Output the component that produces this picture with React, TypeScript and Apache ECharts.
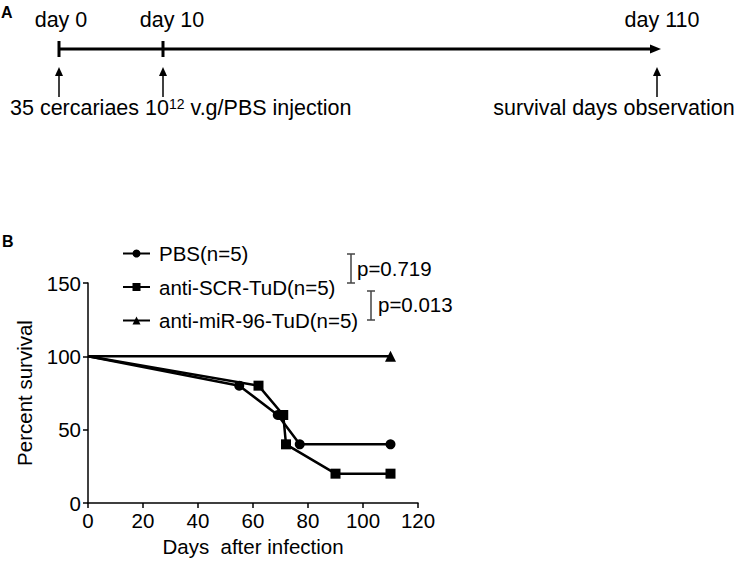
import React, { useEffect, useRef } from "react";
import * as echarts from "echarts";

const seriesNames = ["PBS(n=5)", "anti-SCR-TuD(n=5)", "anti-miR-96-TuD(n=5)"];
const pbsDays = [0, 55, 69, 77, 110];
const pbsSurvival = [100, 80, 60, 40, 40];
const scrDays = [0, 62, 71, 72, 90, 110];
const scrSurvival = [100, 80, 60, 40, 20, 20];
const mirDays = [0, 110];
const mirSurvival = [100, 100];
const symbols = ["circle", "rect", "triangle"];
const pValues = ["p=0.719", "p=0.013"];
const timelineTop = ["day 0", "day 10", "day 110"];

const FONT = "'Liberation Sans', Arial, sans-serif";

function toData(days: number[], vals: number[]) {
  return days.map((d, i) => (i === 0 ? { value: [d, vals[i]], symbol: "none" } : [d, vals[i]]));
}

export default function App() {
  const ref = useRef<HTMLDivElement>(null);
  useEffect(() => {
    const chart = echarts.init(ref.current!, null, { renderer: "svg" });
    const black = "#000";
    const txt = (x: number, y: number, text: string, align = "center", size = 20, weight = "normal", extra: any = {}) => ({
      type: "text",
      x,
      y,
      style: { text, fill: black, fontSize: size, fontFamily: FONT, fontWeight: weight, align, verticalAlign: "middle", ...extra },
    });
    const upArrow = (x: number) => [
      { type: "line", shape: { x1: x, y1: 74, x2: x, y2: 97 }, style: { stroke: black, lineWidth: 1.5 } },
      { type: "polygon", shape: { points: [[x, 67], [x - 4, 76], [x + 4, 76]] }, style: { fill: black } },
    ];
    const bracket = (x: number, y1: number, y2: number) => [
      { type: "line", shape: { x1: x, y1, x2: x, y2 }, style: { stroke: "#444", lineWidth: 1.5 } },
      { type: "line", shape: { x1: x - 4, y1, x2: x + 4, y2: y1 }, style: { stroke: "#444", lineWidth: 1.5 } },
      { type: "line", shape: { x1: x - 4, y1: y2, x2: x + 4, y2 }, style: { stroke: "#444", lineWidth: 1.5 } },
    ];
    const graphic: any[] = [
      txt(1, 12, "A", "left", 16, "bold"),
      txt(2, 241, "B", "left", 16, "bold"),
      { type: "line", shape: { x1: 59, y1: 49, x2: 652, y2: 49 }, style: { stroke: black, lineWidth: 3 } },
      { type: "polygon", shape: { points: [[661, 49], [650, 44.5], [650, 53.5]] }, style: { fill: black } },
      { type: "line", shape: { x1: 59, y1: 41, x2: 59, y2: 57 }, style: { stroke: black, lineWidth: 3 } },
      { type: "line", shape: { x1: 163, y1: 41, x2: 163, y2: 57 }, style: { stroke: black, lineWidth: 3 } },
      txt(61, 20, timelineTop[0], "center", 21.5),
      txt(172, 20, timelineTop[1], "center", 21.5),
      txt(662, 20, timelineTop[2], "center", 21.5),
      ...upArrow(59),
      ...upArrow(163),
      ...upArrow(657),
      {
        type: "text",
        x: 10,
        y: 108,
        style: {
          text: "35 cercariaes 10{sup|12} v.g/PBS injection",
          fill: black,
          fontSize: 21.5,
          fontFamily: FONT,
          align: "left",
          verticalAlign: "middle",
          rich: { sup: { fontSize: 14, fontFamily: FONT, fill: black, verticalAlign: "top", padding: [0, 0, 8, 0] } },
        },
      },
      txt(614, 108, "survival days observation", "center", 21.5),
      ...bracket(351, 254, 283),
      ...bracket(371, 291, 320),
      txt(357, 268, pValues[0], "left", 20.5),
      txt(378, 304, pValues[1], "left", 20.5),
    ];
    const mk = (name: string, data: any[], sym: string) => ({
      name,
      type: "line",
      data,
      symbol: sym,
      symbolSize: sym === "triangle" ? 11 : 10,
      lineStyle: { color: black, width: 2.5 },
      itemStyle: { color: black },
      z: 3,
    });
    chart.setOption({
      animation: false,
      textStyle: { fontFamily: FONT },
      grid: { left: 88, right: 326, top: 283, bottom: 63, containLabel: false },
      legend: {
        orient: "vertical",
        left: 117,
        top: 238,
        itemWidth: 27,
        itemHeight: 10,
        itemGap: 12.5,
        textStyle: { fontSize: 20.5, color: black, fontFamily: FONT, padding: [0, 0, 0, 4] },
        data: seriesNames,
      },
      xAxis: {
        type: "value",
        min: 0,
        max: 120,
        interval: 20,
        name: "Days  after infection",
        nameLocation: "middle",
        nameGap: 33,
        nameTextStyle: { fontSize: 20.5, color: black, fontFamily: FONT },
        axisLine: { lineStyle: { color: black, width: 1.5 } },
        axisTick: { lineStyle: { color: black, width: 1.5 }, length: 5 },
        axisLabel: { fontSize: 20.5, color: black, margin: 7, fontFamily: FONT },
        splitLine: { show: false },
      },
      yAxis: {
        type: "value",
        min: 0,
        max: 150,
        interval: 50,
        name: "Percent survival",
        nameLocation: "middle",
        nameGap: 53,
        nameTextStyle: { fontSize: 20.5, color: black, fontFamily: FONT },
        axisLine: { show: true, lineStyle: { color: black, width: 1.5 } },
        axisTick: { show: true, lineStyle: { color: black, width: 1.5 }, length: 5 },
        axisLabel: { fontSize: 20.5, color: black, margin: 7, fontFamily: FONT },
        splitLine: { show: false },
      },
      series: [
        mk(seriesNames[0], toData(pbsDays, pbsSurvival), symbols[0]),
        mk(seriesNames[1], toData(scrDays, scrSurvival), symbols[1]),
        mk(seriesNames[2], toData(mirDays, mirSurvival), symbols[2]),
      ],
      graphic,
    });
    return () => chart.dispose();
  }, []);
  return <div ref={ref} style={{ width: 744, height: 566, position: "absolute", left: 0, top: 0, background: "#fff" }} />;
}
